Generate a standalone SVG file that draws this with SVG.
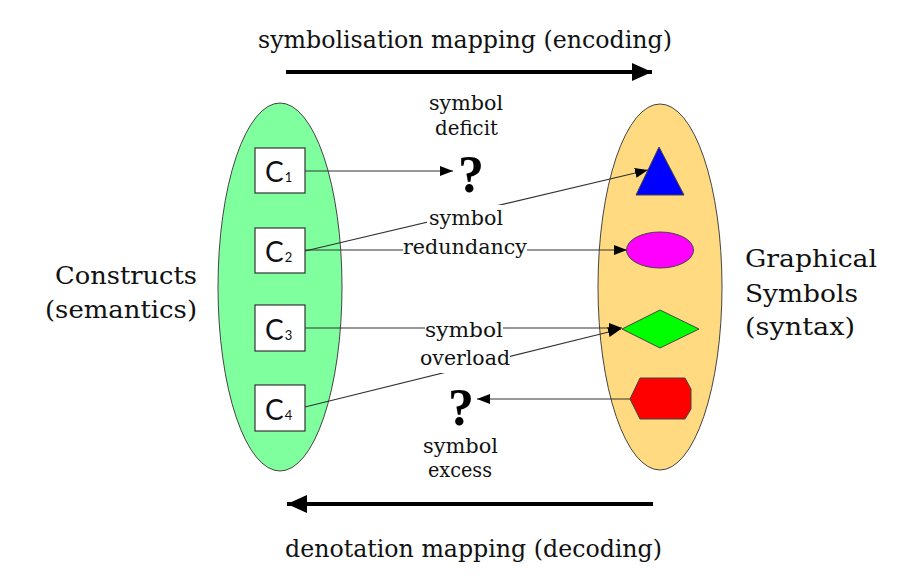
<svg xmlns="http://www.w3.org/2000/svg" width="898" height="578" viewBox="0 0 898 578">
<style>
.lbl{font-family:"DejaVu Serif","Liberation Serif",serif;font-size:20px;fill:#111;}
.big{font-family:"DejaVu Serif","Liberation Serif",serif;font-size:25px;fill:#111;}
.c{font-family:Lato,"Open Sans","Liberation Sans",sans-serif;font-size:28px;fill:#111;}
.sub{font-size:13px;}
.q{font-family:"Liberation Serif","DejaVu Serif",serif;font-weight:bold;font-size:52px;fill:#000;text-anchor:middle;}
.box{fill:#fff;stroke:#333;stroke-width:1.2;}
.conn{stroke:#333;stroke-width:1.2;fill:none;}
.thick{stroke:#000;stroke-width:4;fill:none;}
.shape{stroke:#444;stroke-width:1;}
.bg{fill:#fff;stroke:none;}
</style>
<defs>
<marker id="ah" markerUnits="userSpaceOnUse" markerWidth="13" markerHeight="10" refX="13" refY="5" orient="auto">
<path d="M0,0 L13,5 L0,10 z" fill="#000"/>
</marker>
<marker id="bigah" markerUnits="userSpaceOnUse" markerWidth="20" markerHeight="18" refX="20" refY="9" orient="auto">
<path d="M0,0 L20,9 L0,18 z" fill="#000"/>
</marker>
</defs>
<rect width="898" height="578" fill="#fff"/>

<g id="title-top">
<text class="big" x="258" y="48" textLength="414" lengthAdjust="spacingAndGlyphs">symbolisation mapping (encoding)</text>
</g>
<g id="title-bottom">
<text class="big" x="285" y="557" textLength="377" lengthAdjust="spacingAndGlyphs">denotation mapping (decoding)</text>
</g>

<g id="constructs">
<ellipse cx="280" cy="287" rx="62" ry="184" fill="#80FF9F" stroke="#444" stroke-width="1"/>
<text class="big" x="55" y="284" textLength="142" lengthAdjust="spacingAndGlyphs">Constructs</text>
<text class="big" x="45" y="318" textLength="152" lengthAdjust="spacingAndGlyphs">(semantics)</text>
</g>

<g id="symbols">
<ellipse cx="660" cy="287" rx="62" ry="183" fill="#FFDA80" stroke="#444" stroke-width="1"/>
<text class="big" x="745" y="267" textLength="132" lengthAdjust="spacingAndGlyphs">Graphical</text>
<text class="big" x="745" y="302" textLength="113" lengthAdjust="spacingAndGlyphs">Symbols</text>
<text class="big" x="745" y="335" textLength="110" lengthAdjust="spacingAndGlyphs">(syntax)</text>
</g>

<g id="connectors">
<line class="thick" x1="286" y1="72" x2="652" y2="72" marker-end="url(#bigah)"/>
<line class="thick" x1="653" y1="504" x2="287" y2="504" marker-end="url(#bigah)"/>
<line class="conn" x1="305" y1="171" x2="453" y2="171" marker-end="url(#ah)"/>
<line class="conn" x1="305" y1="251" x2="648" y2="170" marker-end="url(#ah)"/>
<line class="conn" x1="305" y1="250" x2="627" y2="250" marker-end="url(#ah)"/>
<line class="conn" x1="305" y1="328" x2="622" y2="328" marker-end="url(#ah)"/>
<line class="conn" x1="305" y1="407" x2="621" y2="329" marker-end="url(#ah)"/>
<line class="conn" x1="630" y1="399" x2="477" y2="399" marker-end="url(#ah)"/>
</g>

<g id="c1">
<rect class="box" x="255" y="148" width="50" height="45"/>
<text class="c" x="265" y="182">C<tspan class="sub" dx="1">1</tspan></text>
</g>
<g id="c2">
<rect class="box" x="255" y="228" width="50" height="45"/>
<text class="c" x="265" y="262">C<tspan class="sub" dx="1">2</tspan></text>
</g>
<g id="c3">
<rect class="box" x="255" y="305" width="50" height="46"/>
<text class="c" x="265" y="340">C<tspan class="sub" dx="1">3</tspan></text>
</g>
<g id="c4">
<rect class="box" x="255" y="385" width="50" height="46"/>
<text class="c" x="265" y="420">C<tspan class="sub" dx="1">4</tspan></text>
</g>

<g id="triangle">
<polygon class="shape" points="659,147 684,195 636,195" fill="#0000FF"/>
</g>
<g id="oval">
<ellipse class="shape" cx="660" cy="250" rx="33.5" ry="18" fill="#FF00FF"/>
</g>
<g id="diamond">
<polygon class="shape" points="622,329 660,310 699,329 660,348" fill="#00FF00"/>
</g>
<g id="hexagon">
<polygon class="shape" points="630,399 640,378 685,378 691,389 691,409 685,419 640,419" fill="#FF0000"/>
</g>

<g id="deficit">
<text class="lbl" x="429" y="110" textLength="74" lengthAdjust="spacingAndGlyphs">symbol</text>
<text class="lbl" x="435" y="135" textLength="63" lengthAdjust="spacingAndGlyphs">deficit</text>
<text class="q" x="471" y="192">?</text>
</g>
<g id="redundancy">
<rect class="bg" x="427" y="205" width="78" height="25"/>
<rect class="bg" x="403" y="240" width="124" height="20"/>
<text class="lbl" x="429" y="225" textLength="74" lengthAdjust="spacingAndGlyphs">symbol</text>
<text class="lbl" x="403" y="254" textLength="124" lengthAdjust="spacingAndGlyphs">redundancy</text>
</g>
<g id="overload">
<rect class="bg" x="425" y="316" width="78" height="25"/>
<rect class="bg" x="420" y="345" width="90" height="28"/>
<text class="lbl" x="425" y="337" textLength="78" lengthAdjust="spacingAndGlyphs">symbol</text>
<text class="lbl" x="420" y="365" textLength="90" lengthAdjust="spacingAndGlyphs">overload</text>
</g>
<g id="excess">
<text class="q" x="461" y="425">?</text>
<text class="lbl" x="423" y="453" textLength="75" lengthAdjust="spacingAndGlyphs">symbol</text>
<text class="lbl" x="428" y="477" textLength="64" lengthAdjust="spacingAndGlyphs">excess</text>
</g>
</svg>
